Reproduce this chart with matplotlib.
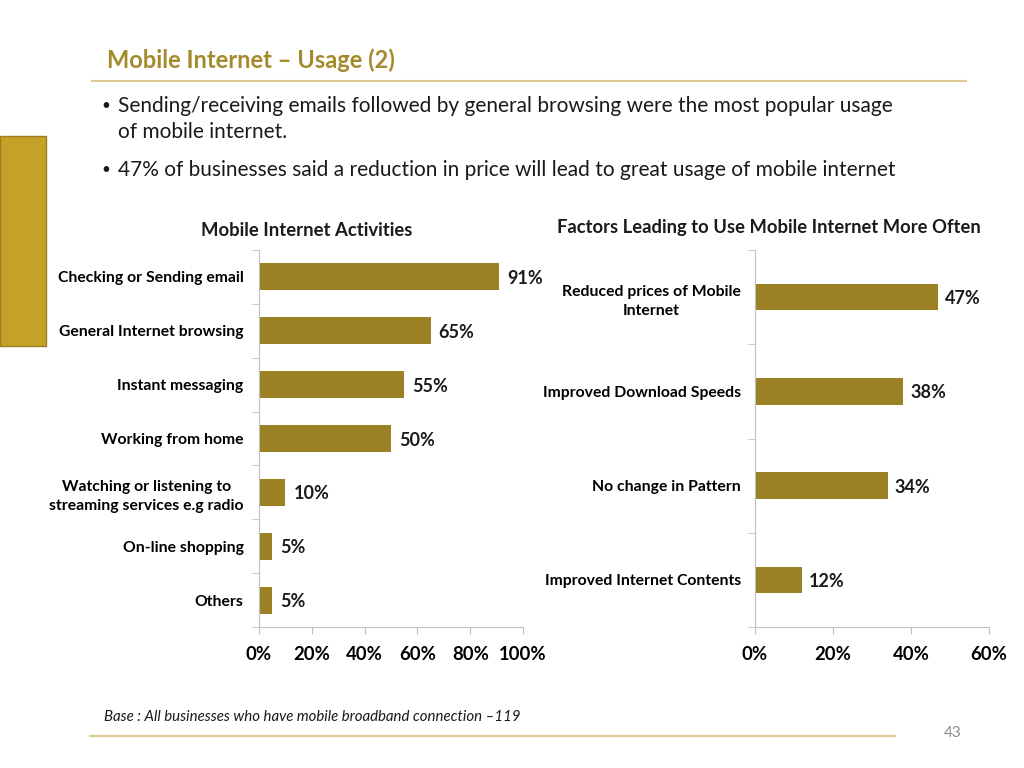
import matplotlib.pyplot as plt
import numpy as np
from matplotlib.patches import Rectangle
from matplotlib.lines import Line2D

plt.rcParams["font.family"] = ["Lato", "DejaVu Sans"]

activities = [
    "Checking or Sending email",
    "General Internet browsing",
    "Instant messaging",
    "Working from home",
    "Watching or listening to\nstreaming services e.g radio",
    "On-line shopping",
    "Others",
]
activity_pct = [91, 65, 55, 50, 10, 5, 5]

factors = [
    "Reduced prices of Mobile\nInternet",
    "Improved Download Speeds",
    "No change in Pattern",
    "Improved Internet Contents",
]
factor_pct = [47, 38, 34, 12]

bar_color = "#9C8024"
gold = "#C4A227"
title_color = "#A48A2C"
spine_gray = "#BFBFBF"


def bar_panel(ax, labels, values, xmax, step, bar_h, pad):
    y = np.arange(len(labels))
    ax.barh(y, values, height=bar_h, color=bar_color)
    ax.set_ylim(len(labels) - 0.5, -0.5)
    ax.set_xlim(0, xmax)
    ax.set_yticks(y)
    ax.set_yticklabels(labels, fontsize=11.3, fontweight="bold",
                       multialignment="center", linespacing=1.45)
    ax.set_yticks(np.arange(len(labels) + 1) - 0.5, minor=True)
    ax.tick_params(axis="y", which="major", length=0, pad=pad)
    ax.tick_params(axis="y", which="minor", length=5, color=spine_gray, direction="out")
    xt = np.arange(0, xmax + 1, step)
    ax.set_xticks(xt)
    ax.set_xticklabels([f"{v}%" for v in xt], fontsize=13.3, fontweight="bold")
    ax.tick_params(axis="x", length=5, color=spine_gray, pad=9)
    for s in ("top", "right"):
        ax.spines[s].set_visible(False)
    for s in ("left", "bottom"):
        ax.spines[s].set_color(spine_gray)
    for yi, v in zip(y, values):
        ax.text(v + xmax * 0.03, yi, f"{v}%", va="center_baseline", ha="left",
                fontsize=13, fontweight="bold", color="#1a1a1a")


fig = plt.figure(figsize=(10.24, 7.68), dpi=100)

ax1 = fig.add_axes([259 / 1024, 1 - 627 / 768, 264 / 1024, 377 / 768])
bar_panel(ax1, activities, activity_pct, 100, 20, 0.5, 11)

ax2 = fig.add_axes([755 / 1024, 1 - 627 / 768, 234 / 1024, 377 / 768])
bar_panel(ax2, factors, factor_pct, 60, 20, 0.28, 10)

# panel titles
fig.text(307 / 1024, 1 - 231 / 768, "Mobile Internet Activities", ha="center", va="center",
         fontsize=13.3, fontweight="bold", color="#1a1a1a")
fig.text(769 / 1024, 1 - 227 / 768, "Factors Leading to Use Mobile Internet More Often",
         ha="center", va="center", fontsize=13.2, fontweight="bold", color="#1a1a1a")

# slide decoration
fig.patches.append(Rectangle((0, 1 - 346 / 768), 46 / 1024, 210 / 768, transform=fig.transFigure,
                             facecolor=gold, edgecolor="#9C7E1E", linewidth=1))
fig.text(107 / 1024, 1 - 60 / 768, "Mobile Internet \u2013 Usage (2)", ha="left", va="center",
         fontsize=17, fontweight="bold", color=title_color)
fig.lines.append(Line2D([92 / 1024, 966 / 1024], [1 - 81 / 768] * 2, transform=fig.transFigure,
                        color="#DCCB94", linewidth=1.5))
body = 15
for ypx in (106, 170):
    fig.text(106 / 1024, 1 - ypx / 768, "\u2022", ha="center", va="center",
             fontsize=11, color="#1a1a1a")
fig.text(118 / 1024, 1 - 106 / 768,
         "Sending/receiving emails followed by general browsing were the most popular usage",
         ha="left", va="center", fontsize=body, color="#1a1a1a")
fig.text(118 / 1024, 1 - 132 / 768, "of mobile internet.", ha="left", va="center",
         fontsize=body, color="#1a1a1a")
fig.text(118 / 1024, 1 - 170 / 768,
         "47% of businesses said a reduction in price will lead to great usage of mobile internet",
         ha="left", va="center", fontsize=body, color="#1a1a1a")

fig.text(104 / 1024, 1 - 717 / 768, "Base : All businesses who have mobile broadband connection \u2013119",
         ha="left", va="center", fontsize=10.8, style="italic", color="#1a1a1a")
fig.lines.append(Line2D([90 / 1024, 895 / 1024], [1 - 736 / 768] * 2, transform=fig.transFigure,
                        color="#DCCB94", linewidth=1.5))
fig.text(953 / 1024, 1 - 733 / 768, "43", ha="center", va="center", fontsize=11, color="#8C8C8C")

fig.savefig("out.png", dpi=100)
